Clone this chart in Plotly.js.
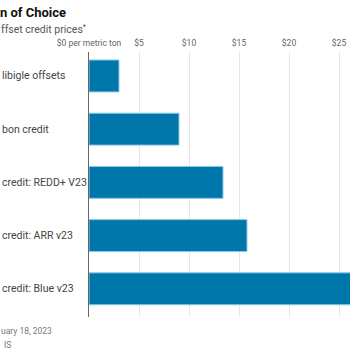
<!DOCTYPE html>
<html>
<head>
<meta charset="utf-8">
<script src="https://cdn.plot.ly/plotly-3.0.1.min.js"></script>
<style>html,body{margin:0;padding:0;background:#fff;}#chart{width:350px;height:350px;}</style>
</head>
<body>
<div id="chart"></div>
<script>
// Data (visible portion of the chart; left side is cropped in the reference)
const categories = ["libigle offsets", "bon credit", "credit: REDD+ V23", "credit: ARR v23", "credit: Blue v23"];
const prices = [3.0, 9.0, 13.4, 15.8, 27.0];
const tickValues = [0, 5, 10, 15, 20, 25];
const tickLabels = ["$0 per metric ton", "$5", "$10", "$15", "$20", "$25"];
const titleText = "n of Choice";
const subtitleText = "ffset credit prices<sup>*</sup>";
const footerLines = ["uary 18, 2023", "IS"];

const W = 350, H = 350, L = 89, R = 0, T = 52, B = 33;
const pw = W - L - R, ph = H - T - B;
const px = p => (p - L) / pw;
const py = p => (H - B - p) / ph;

const sans = "Roboto, 'Open Sans', sans-serif";

const annotations = categories.map(c => ({
  xref: 'paper', yref: 'y', x: px(0), y: c, text: c, showarrow: false,
  xanchor: 'left', yanchor: 'middle', align: 'left',
  font: {family: sans, size: 10.5, color: '#444'}
}));
annotations.push({
  xref: 'paper', yref: 'paper', x: px(-1), y: py(29), text: subtitleText, showarrow: false,
  xanchor: 'left', yanchor: 'middle', font: {family: sans, size: 10.5, color: '#555'}
});
annotations.push({
  xref: 'paper', yref: 'paper', x: px(-1), y: py(331), text: footerLines[0], showarrow: false,
  xanchor: 'left', yanchor: 'middle', font: {family: sans, size: 8.5, color: '#777'}
});
annotations.push({
  xref: 'paper', yref: 'paper', x: px(2), y: py(345), text: footerLines[1], showarrow: false,
  xanchor: 'left', yanchor: 'middle', font: {family: sans, size: 8.5, color: '#777'}
});

const trace = {
  type: 'bar', orientation: 'h', x: prices, y: categories,
  marker: {color: '#0077ab', line: {color: '#8ec9e8', width: 1}},
  hoverinfo: 'skip'
};

const layout = {
  width: W, height: H,
  margin: {l: L, r: R, t: T, b: B, pad: 0},
  paper_bgcolor: '#fff', plot_bgcolor: '#fff',
  showlegend: false,
  bargap: 0.4,
  title: {
    text: titleText, x: 0, xref: 'container', xanchor: 'left',
    y: 1 - 12 / H, yref: 'container', yanchor: 'middle',
    font: {family: sans, size: 13, color: '#111', weight: 'bold'}
  },
  xaxis: {
    side: 'top', range: [0, 26.1], tickvals: tickValues, ticktext: tickLabels,
    showgrid: true, gridcolor: '#e6e6e6', gridwidth: 1, zeroline: false,
    showline: false, ticks: '', ticklabelstandoff: 3,
    tickfont: {family: sans, size: 8.5, color: '#666'}, fixedrange: true
  },
  yaxis: {
    type: 'category', categoryorder: 'array', categoryarray: categories,
    range: [4.53, -0.45], showticklabels: false, showgrid: false, zeroline: false,
    showline: true, linecolor: '#666', linewidth: 1, ticks: '', fixedrange: true
  },
  annotations: annotations
};

Plotly.newPlot('chart', [trace], layout, {displayModeBar: false, staticPlot: true});
</script>
</body>
</html>
